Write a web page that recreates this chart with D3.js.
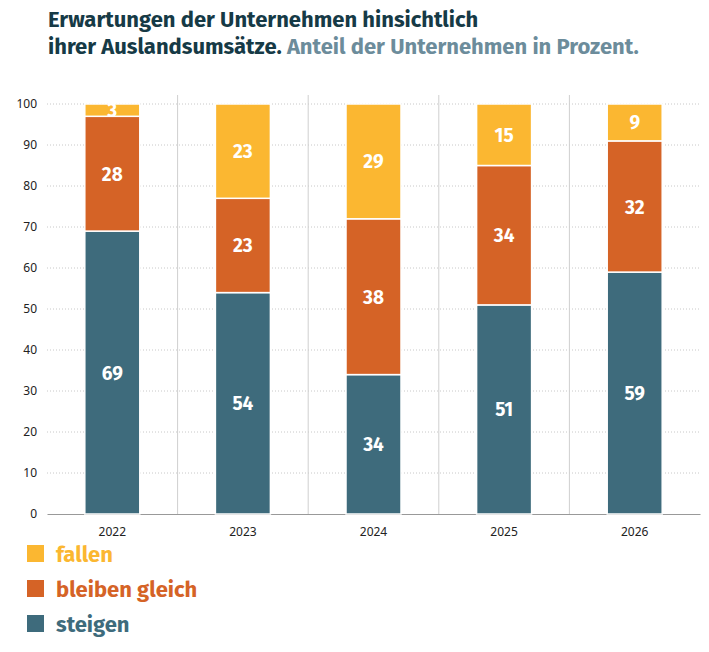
<!DOCTYPE html>
<html><head><meta charset="utf-8">
<script src="https://cdn.jsdelivr.net/npm/d3@7"></script>
<style>body{margin:0;background:#fff;font-family:"Fira Sans","Noto Sans",sans-serif}</style>
</head><body><div id="chart"></div>
<script>
var years = ["2022", "2023", "2024", "2025", "2026"];
var steigen = [69, 54, 34, 51, 59];
var gleich = [28, 23, 38, 34, 32];
var fallen = [3, 23, 29, 15, 9];
var seriesNames = ["steigen", "bleiben gleich", "fallen"];
var colors = ["#3e6b7c", "#d56326", "#fbb731"];

var svg = d3.select("#chart").append("svg").attr("width", 709).attr("height", 652);

svg.append("text").attr("x", 48).attr("y", 27).attr("font-size", 22).attr("font-weight", 700)
  .attr("fill", "#163a46").text("Erwartungen der Unternehmen hinsichtlich");
var t2 = svg.append("text").attr("x", 48).attr("y", 54).attr("font-size", 22).attr("font-weight", 700);
t2.append("tspan").attr("fill", "#163a46").text("ihrer Auslandsumsätze. ");
t2.append("tspan").attr("fill", "#6c8c9b").text("Anteil der Unternehmen in Prozent.");

var x = d3.scaleBand().domain(years).range([47, 700]).paddingInner(0).paddingOuter(0);
var y = d3.scaleLinear().domain([0, 100]).range([514, 104]);

// grid
svg.append("g").selectAll("line").data(d3.range(10, 101, 10)).join("line")
  .attr("x1", 47).attr("x2", 700).attr("y1", d => y(d)).attr("y2", d => y(d))
  .attr("stroke", "#c8c8c8").attr("stroke-dasharray", "1,2");
svg.append("g").selectAll("line").data(years.slice(1)).join("line")
  .attr("x1", d => x(d)).attr("x2", d => x(d)).attr("y1", 95).attr("y2", 514)
  .attr("stroke", "#cfcfcf");

var yAxis = svg.append("g").attr("transform", "translate(40,0)")
  .call(d3.axisLeft(y).tickValues(d3.range(0, 101, 10)).tickSize(0));
yAxis.select(".domain").remove();
yAxis.selectAll("text").attr("font-size", 12).attr("fill", "#222").attr("font-family", "Noto Sans");

var xAxis = svg.append("g").attr("transform", "translate(0,514)")
  .call(d3.axisBottom(x).tickSize(0).tickPadding(13));
xAxis.select(".domain").attr("stroke", "#999");
xAxis.selectAll("text").attr("font-size", 12).attr("fill", "#222").attr("font-family", "Noto Sans");

var data = years.map((yr, i) => ({year: yr, s0: steigen[i], s1: gleich[i], s2: fallen[i]}));
var stack = d3.stack().keys(["s0", "s1", "s2"])(data);
var bw = 55;
stack.forEach(function(layer, li) {
  var g = svg.append("g");
  g.selectAll("rect").data(layer).join("rect")
    .attr("x", d => x(d.data.year) + x.bandwidth() / 2 - bw / 2)
    .attr("width", bw)
    .attr("y", d => y(Math.min(d[1], 100)))
    .attr("height", d => y(d[0]) - y(Math.min(d[1], 100)))
    .attr("fill", colors[li]).attr("stroke", "#fff").attr("stroke-width", 1.5);
  g.selectAll("text").data(layer).join("text")
    .attr("x", d => x(d.data.year) + x.bandwidth() / 2)
    .attr("y", d => (y(d[0]) + y(Math.min(d[1], 100))) / 2 + 7)
    .attr("text-anchor", "middle").attr("fill", "#fff").attr("font-size", 19).attr("font-weight", 700)
    .text(d => d[1] - d[0]);
});

var leg = svg.append("g");
[2, 1, 0].forEach(function(k, i) {
  leg.append("rect").attr("x", 27).attr("y", 554 + i * 35 - 9).attr("width", 17).attr("height", 17).attr("fill", colors[k]);
  leg.append("text").attr("x", 56).attr("y", 554 + i * 35 + 8).attr("font-size", 22).attr("font-weight", 700)
    .attr("fill", colors[k]).text(seriesNames[k]);
});
</script></body></html>
